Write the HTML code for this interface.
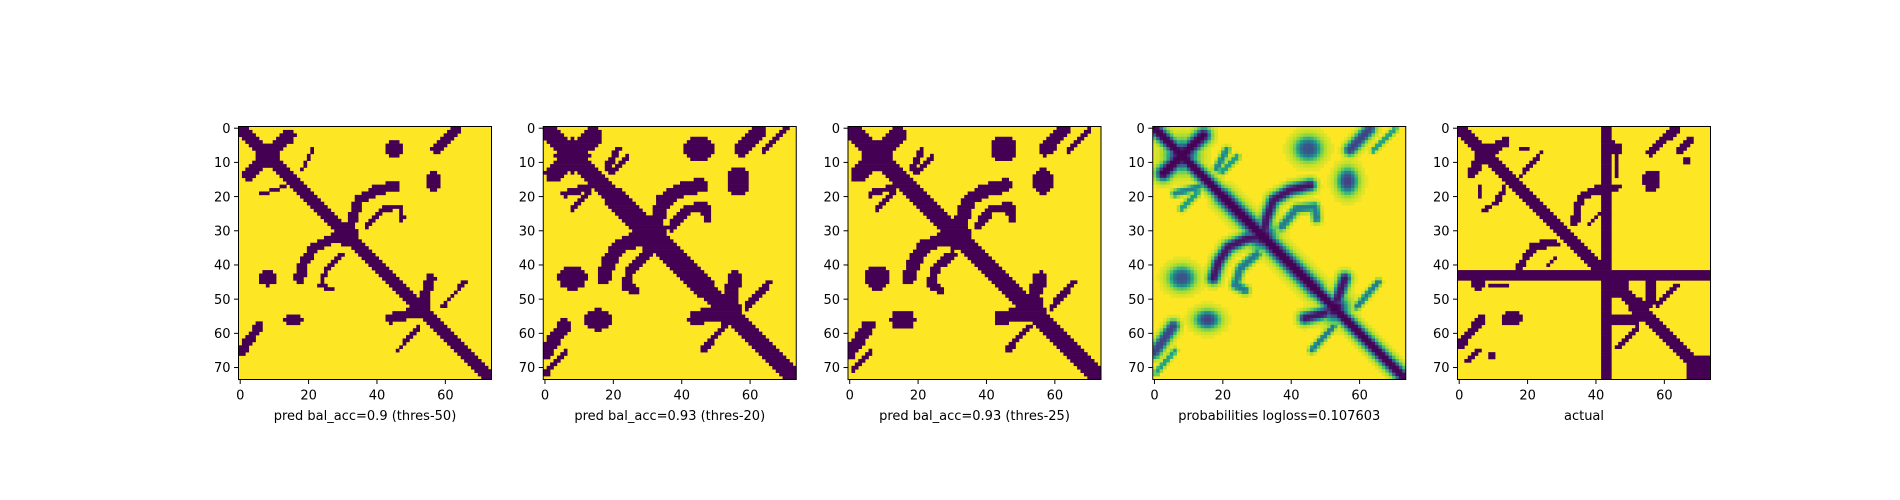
<!DOCTYPE html>
<html><head><meta charset="utf-8">
<style>
html,body{margin:0;padding:0;background:#fff;}
svg{display:block;font-family:"DejaVu Sans","Liberation Sans",sans-serif;}
</style></head>
<body>
<svg id="fig" width="1900" height="500" viewBox="0 0 1900 500" xmlns="http://www.w3.org/2000/svg"></svg>
<script>
// ---------- data ----------
const nCells = 74;
const panelTitles = ["pred bal_acc=0.9 (thres-50)","pred bal_acc=0.93 (thres-20)","pred bal_acc=0.93 (thres-25)","probabilities logloss=0.107603","actual"];
const panelThresholds = [0.5, 0.2, 0.25, null, null];
const xTicks = [0,20,40,60];
const yTicks = [0,10,20,30,40,50,60,70];
// predicted probability features: [points], halfWidth, amplitude
const probLines = [
  [[[0,0],[73,73]],1.7,1],
  [[[20,20],[47,47]],2.1,1],
  [[[2.6,13.2],[8,8],[14.3,2.1]],1.9,1],
  [[[18.2,11.8],[21.1,6.4]],0.9,0.55],
  [[[19.7,12.8],[24.1,8.4]],0.8,0.45],
  [[[6.0,19.1],[13.3,17.1]],0.9,0.55],
  [[[7.9,23.5],[12.4,19.1]],0.8,0.45],
  [[[32,30],[32.8,26.4],[34.8,21.0],[39.7,18.1],[45.5,16.7]],1.5,0.95],
  [[[30,32],[27,32.3],[21.6,34.8],[18.7,39.2],[17.2,43.9]],1.5,0.95],
  [[[37.2,28.8],[41.6,23.5],[46.9,23.0],[47.4,26.4]],1.1,0.6],
  [[[30.0,36.8],[25.1,41.0],[23.6,45.9],[26.5,47.4]],1.1,0.6],
  [[[53.5,50],[55.7,43.9]],1.5,0.95],
  [[[50,54],[44,55.6]],1.5,0.95],
  [[[59.2,52.2],[65.5,45.0]],0.8,0.6],
  [[[46.0,64.9],[52.3,58.1]],0.8,0.6],
  [[[57.2,6.3],[63.0,0.2]],1.5,0.8],
  [[[64,6.5],[70.4,0.3]],0.7,0.45],
  [[[0,65.6],[5.5,57.9]],1.5,0.8],
  [[[0.5,71.5],[6,65]],0.7,0.45]
];
// blobs: cx, cy, rx, ry, amplitude
const probBlobs = [
  [8,8,3.6,3.6,1],[31.5,31.5,3.2,3.2,1],[52.8,52.7,3.2,3.2,1],
  [45,6,3.3,3.0,0.75],[56.5,15.5,2.5,3.2,0.8],[8,43.8,3.2,2.8,0.75],[15.5,56,3.0,2.3,0.8]
];
// actual contact map features
const actualRects = [[42,44,0,73],[0,73,42,44],[44,49,44,49],[67,73,67,73]];
const actualLines = [
  [[[0,0],[73,73]],3.2],[[[55,55],[70,70]],4],
  [[[3.6,13.2],[7.5,7.4],[13.3,4.0]],3],
  [[[17.7,6.4],[20,6.4]],1],[[[18.2,13.7],[23.6,7.4]],1.2],[[[6,17.1],[6,19.6]],1],
  [[[6.9,24],[11.9,21]],1.2],[[[11.4,20.5],[13.3,17.6]],1.5],
  [[[33.8,27.4],[35.3,20.6],[39.7,18.1],[46,17.1]],2.2],
  [[[28,33.7],[22.1,34.2],[19.7,37.1],[17.7,41]],2.2],
  [[[37.7,28.3],[40.6,25.4]],1.2],[[[25.5,40.5],[28.5,37.6]],1.2],
  [[[8.5,45.6],[13.8,45.6]],1],[[[45.8,8.4],[45.8,13.7]],1],
  [[[56.2,6.8],[63,0.4]],2.5],[[[64.7,6.4],[67.7,3.5]],2],
  [[[55.5,51],[56.2,44]],3],[[[44,56],[52,55.5]],3],
  [[[57.7,52.2],[64,45.9]],1.3],[[[46.5,63.9],[51.8,58.6]],1.3],
  [[[0.2,63.4],[6.5,55.7]],2.5],[[[2.4,67.8],[5.5,64.6]],1.3]
];
const actualBlobs = [
  [7.5,7.5,2.8,2.8],[5.5,45.4,2,2],[44.5,5.9,3,2],[56.2,15.2,2.5,3.2],[66.3,9.4,1,1],
  [51.8,51.7,2.5,2.5],[15.3,55.6,3.2,2.3],[9.2,66.4,1,1]
];
// ---------- layout ----------
const axLeft0 = 238.5, axStep = 304.75, axTop = 126.5, axSize = 253;
const cellPx = axSize / nCells;
const NS = "http://www.w3.org/2000/svg";
const fig = document.getElementById('fig');
function mk(tag, attrs, parent){const e=document.createElementNS(NS,tag);for(const k in attrs)e.setAttribute(k,attrs[k]);(parent||fig).appendChild(e);return e;}
function segDist(px,py,a,b){const dx=b[0]-a[0],dy=b[1]-a[1];const L=dx*dx+dy*dy;let t=L?((px-a[0])*dx+(py-a[1])*dy)/L:0;t=Math.max(0,Math.min(1,t));const qx=a[0]+t*dx-px,qy=a[1]+t*dy-py;return Math.sqrt(qx*qx+qy*qy);}
function polyDist(px,py,pts){let m=1e9;for(let i=0;i<pts.length-1;i++)m=Math.min(m,segDist(px,py,pts[i],pts[i+1]));return m;}
// probability field
const prob=[];
for(let r=0;r<nCells;r++){prob.push([]);for(let c=0;c<nCells;c++){let p=0;
  for(const [pts,hw,amp] of probLines){const d=polyDist(c,r,pts)/hw;p=Math.max(p,amp/(1+d*d*d*d));}
  for(const [cx,cy,rx,ry,amp] of probBlobs){const q=((c-cx)/rx)**2+((r-cy)/ry)**2;p=Math.max(p,amp/(1+q*q));}
  prob[r].push(Math.min(1,p));}}
// actual binary
const actual=[];
for(let r=0;r<nCells;r++){actual.push([]);for(let c=0;c<nCells;c++){let v=0;
  for(const [c0,c1,r0,r1] of actualRects)if(c>=c0&&c<=c1&&r>=r0&&r<=r1)v=1;
  for(const [pts,w] of actualLines)if(polyDist(c,r,pts)<=w/2)v=1;
  for(const [cx,cy,rx,ry] of actualBlobs)if(((c-cx)/rx)**2+((r-cy)/ry)**2<=1)v=1;
  actual[r].push(v);}}
const vir=[[68,1,84],[72,40,120],[62,74,137],[49,104,142],[38,130,142],[31,158,137],[53,183,121],[109,205,89],[180,222,44],[253,231,37]];
function viridis(t){t=Math.max(0,Math.min(1,t))*9;const i=Math.min(8,Math.floor(t)),f=t-i;const a=vir[i],b=vir[i+1];return `rgb(${Math.round(a[0]+(b[0]-a[0])*f)},${Math.round(a[1]+(b[1]-a[1])*f)},${Math.round(a[2]+(b[2]-a[2])*f)})`;}
function xPos(L,v){return L+(v+0.5)*cellPx;}
function yPos(v){return axTop+(v+0.5)*cellPx;}
for(let k=0;k<5;k++){
  const L=axLeft0+k*axStep;
  const g=mk('g',{});
  
  
  const bg=mk('rect',{x:L,y:axTop,width:axSize,height:axSize,fill:'#fde725'},g);
  
  
  for(let r=0;r<nCells;r++){
    if(k===3){
      for(let c=0;c<nCells;c++){const p=prob[r][c];if(p<0.03)continue;
        const cell=mk('rect',{x:L+c*cellPx,y:axTop+r*cellPx,width:cellPx+0.3,height:cellPx+0.3,fill:viridis(1-p)},g);
        
        }
    } else {
      const on=c=> k===4 ? actual[r][c]===1 : prob[r][c]>=panelThresholds[k];
      let c=0;
      while(c<nCells){if(!on(c)){c++;continue;}let s=c;while(c<nCells&&on(c))c++;
        const cell=mk('rect',{x:L+s*cellPx,y:axTop+r*cellPx,width:(c-s)*cellPx+0.3,height:cellPx+0.3,fill:'#440154'},g);
        
        }
    }
  }
  const frame=mk('rect',{x:L,y:axTop,width:axSize,height:axSize,fill:'none',stroke:'#000','stroke-width':1},g);
  
  
  for(const v of xTicks){const x=xPos(L,v);
    const t=mk('line',{x1:x,x2:x,y1:axTop+axSize,y2:axTop+axSize+4.5,stroke:'#000','stroke-width':1},g);
    
    
    const lb=mk('text',{x:x,y:axTop+axSize+20,'font-size':13,'text-anchor':'middle',fill:'#000'},g);lb.textContent=v;
    
    }
  for(const v of yTicks){const y=yPos(v);
    const t=mk('line',{x1:L-4.5,x2:L,y1:y,y2:y,stroke:'#000','stroke-width':1},g);
    
    
    const lb=mk('text',{x:L-8,y:y+4.7,'font-size':13,'text-anchor':'end',fill:'#000'},g);lb.textContent=v;
    
    }
  const title=mk('text',{x:L+axSize/2,y:420,'font-size':13,'text-anchor':'middle',fill:'#000'},g);
  title.textContent=panelTitles[k];
  
  
}
</script>
</body></html>
